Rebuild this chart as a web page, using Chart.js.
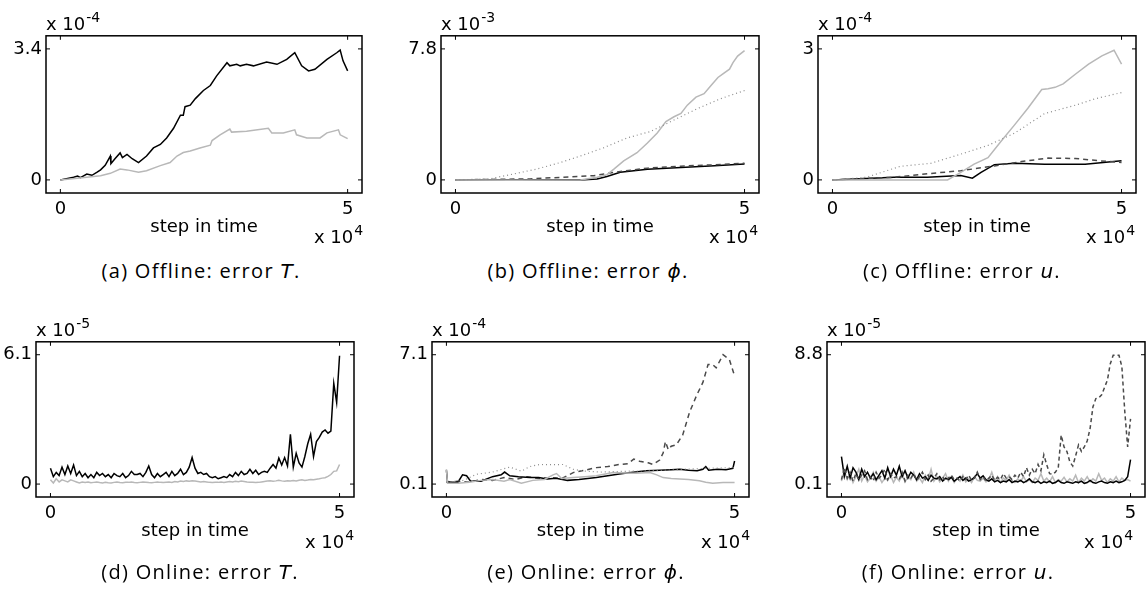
<!DOCTYPE html>
<html>
<head>
<meta charset="utf-8">
<script src="https://cdn.jsdelivr.net/npm/chart.js@4.4.1/dist/chart.umd.min.js"></script>
<style>
  body { margin: 0; background: #fff; width: 1148px; height: 605px; position: relative; overflow: hidden; font-family: "DejaVu Sans", sans-serif; color: #000; }
  canvas { position: absolute; }
  .mult { position: absolute; font-size: 18px; line-height: 20px; white-space: nowrap; }
  .mult sup { font-size: 14px; vertical-align: baseline; position: relative; top: -8px; margin-left: 1px; }
  .cap { position: absolute; width: 340px; text-align: center; font-family: "Open Sans", sans-serif; font-size: 20px; line-height: 24px; letter-spacing: 1.3px; white-space: nowrap; }
  .cap i { font-family: "DejaVu Sans", sans-serif; }
</style>
</head>
<body>
<script>
// x values in units of 1e4 steps, y values in the units shown on each axis

// (a) offline, error T  (x 1e-4)
const offT_black = [[0,0],[0.23,0.07],[0.3,0.1],[0.35,0.06],[0.46,0.15],[0.55,0.12],[0.64,0.2],[0.7,0.26],[0.78,0.38],[0.87,0.62],[0.88,0.42],[0.95,0.55],[1.04,0.7],[1.08,0.58],[1.16,0.66],[1.25,0.55],[1.36,0.45],[1.5,0.62],[1.62,0.83],[1.74,0.92],[1.85,1.09],[1.97,1.34],[2.09,1.68],[2.14,1.68],[2.17,1.9],[2.26,1.94],[2.35,2.11],[2.49,2.32],[2.61,2.45],[2.72,2.7],[2.9,3.04],[2.95,2.96],[3.07,3.0],[3.13,2.96],[3.24,3.0],[3.36,2.96],[3.59,3.06],[3.77,3.0],[3.94,3.13],[4.08,3.3],[4.2,2.96],[4.32,2.83],[4.43,2.87],[4.64,3.13],[4.81,3.3],[4.87,3.37],[4.92,3.09],[5.0,2.83]];
const offT_gray = [[0,0],[0.46,0.07],[0.7,0.11],[0.87,0.17],[1.04,0.28],[1.16,0.26],[1.36,0.2],[1.5,0.24],[1.74,0.37],[1.91,0.45],[2.03,0.62],[2.14,0.71],[2.26,0.75],[2.43,0.83],[2.61,0.9],[2.64,1.02],[2.78,1.17],[2.95,1.32],[2.98,1.24],[3.24,1.26],[3.62,1.34],[3.68,1.22],[3.88,1.22],[4.08,1.3],[4.11,1.17],[4.29,1.09],[4.52,1.09],[4.64,1.22],[4.84,1.3],[4.87,1.17],[5.0,1.07]];

// (b) offline, error phi  (x 1e-3)
const offPhi_gray = [[0,0],[1.0,-0.02],[2.16,0],[2.45,0.16],[2.62,0.31],[2.74,0.64],[2.91,1.13],[3.14,1.62],[3.32,2.2],[3.49,2.79],[3.64,3.47],[3.78,3.76],[3.9,3.96],[4.01,4.45],[4.16,4.93],[4.3,5.13],[4.42,5.62],[4.54,6.1],[4.62,6.3],[4.74,6.59],[4.8,6.98],[4.88,7.37],[5.0,7.7]];
const offPhi_dot = [[0,0],[0.59,0.06],[1.0,0.35],[1.4,0.64],[1.81,1.03],[2.16,1.42],[2.56,1.91],[2.97,2.5],[3.38,2.89],[3.78,3.57],[4.19,4.25],[4.59,4.84],[5.0,5.32]];
const offPhi_black = [[0,0],[2.16,0],[2.45,0.06],[2.62,0.2],[2.85,0.45],[3.32,0.64],[3.9,0.74],[4.48,0.84],[5.0,0.94]];
const offPhi_dash = [[0,0],[1.29,0.06],[1.87,0.16],[2.39,0.25],[2.74,0.45],[3.32,0.7],[3.9,0.82],[4.48,0.9],[5.0,0.99]];

// (c) offline, error u  (x 1e-4)
const offU_gray = [[0,0],[1.99,0],[2.22,0.17],[2.45,0.36],[2.69,0.51],[2.92,0.89],[3.15,1.26],[3.38,1.64],[3.62,2.07],[3.73,2.09],[3.85,2.12],[3.99,2.2],[4.2,2.42],[4.43,2.65],[4.66,2.84],[4.87,2.97],[5.0,2.65]];
const offU_dot = [[0,0],[0.59,0.06],[1.17,0.31],[1.7,0.38],[2.22,0.59],[2.69,0.79],[3.15,1.07],[3.67,1.52],[4.2,1.71],[4.55,1.86],[5.0,2.0]];
const offU_black = [[0,0],[1.06,0.06],[1.64,0.06],[2.22,0.1],[2.42,0.04],[2.57,0.17],[2.8,0.35],[3.15,0.38],[3.67,0.36],[4.37,0.36],[5.0,0.44]];
const offU_dash = [[0,0],[1.06,0.06],[1.64,0.14],[2.22,0.21],[2.8,0.32],[3.27,0.42],[3.73,0.5],[4.2,0.49],[4.6,0.44],[5.0,0.4]];

// online runs are sampled every 0.05 (x 1e4 steps), 101 samples
const onT_black = [0.75,0.35,0.55,0.4,0.8,0.45,0.85,0.5,0.9,0.4,0.6,0.35,0.5,0.3,0.45,0.3,0.55,0.4,0.5,0.35,
  0.45,0.3,0.5,0.4,0.35,0.5,0.3,0.4,0.6,0.45,0.45,0.5,0.35,0.55,0.85,0.45,0.3,0.5,0.35,0.45,
  0.55,0.35,0.6,0.4,0.5,0.7,0.45,0.55,0.8,1.25,0.75,0.5,0.55,0.45,0.5,0.35,0.3,0.35,0.25,0.3,
  0.35,0.3,0.45,0.35,0.55,0.4,0.6,0.45,0.5,0.7,0.5,0.65,0.45,0.55,0.6,0.55,0.75,0.92,0.75,1.23,
  0.9,1.25,0.85,2.35,0.8,1.45,1.0,0.8,1.3,1.9,2.35,1.3,2.0,2.2,2.45,2.55,2.4,2.5,4.75,3.85,6.05];
const onT_gray = [0.2,0.05,0.25,0.1,0.2,0.15,0.1,0.2,0.15,0.1,0.05,0.1,0.08,0.1,0.06,0.08,0.1,0.07,0.05,0.08,
  0.06,0.05,0.08,0.1,0.07,0.06,0.09,0.08,0.1,0.07,0.06,0.08,0.1,0.09,0.07,0.06,0.08,0.1,0.08,0.07,
  0.09,0.1,0.08,0.12,0.1,0.14,0.12,0.15,0.13,0.16,0.14,0.12,0.1,0.12,0.1,0.08,0.07,0.09,0.08,0.1,
  0.08,0.1,0.12,0.1,0.13,0.11,0.14,0.12,0.1,0.09,0.08,0.07,0.08,0.1,0.12,0.14,0.16,0.13,0.15,0.18,
  0.15,0.13,0.16,0.14,0.17,0.15,0.18,0.2,0.17,0.19,0.22,0.2,0.23,0.25,0.28,0.3,0.36,0.45,0.6,0.62,0.92];

// (e) online, error phi  (x 1e-4)
const onPhi_black = [[0,0.85],[0.02,0.2],[0.2,0.2],[0.28,0.6],[0.35,0.55],[0.42,0.25],[0.6,0.25],[0.8,0.5],[0.95,0.6],[1.01,0.75],[1.1,0.55],[1.25,0.5],[1.45,0.45],[1.6,0.45],[1.75,0.38],[1.9,0.42],[2.1,0.3],[2.3,0.35],[2.6,0.45],[2.8,0.55],[3.0,0.65],[3.2,0.72],[3.47,0.82],[3.7,0.85],[3.9,0.88],[4.05,0.9],[4.2,0.85],[4.35,0.82],[4.45,0.9],[4.5,1.05],[4.55,0.85],[4.7,0.9],[4.85,0.88],[4.97,0.95],[5.0,1.35]];
const onPhi_dash = [[0,0.2],[0.2,0.25],[0.4,0.2],[0.6,0.35],[0.8,0.3],[1.0,0.45],[1.2,0.35],[1.4,0.5],[1.6,0.4],[1.8,0.45],[2.0,0.4],[2.2,0.72],[2.4,0.85],[2.6,0.99],[2.8,1.05],[3.0,1.16],[3.15,1.2],[3.25,1.45],[3.35,1.34],[3.5,1.25],[3.58,1.16],[3.7,1.4],[3.76,1.78],[3.8,2.4],[3.85,1.96],[3.9,2.15],[3.99,2.23],[4.1,2.76],[4.22,4.0],[4.34,4.89],[4.45,5.6],[4.54,6.57],[4.62,6.57],[4.68,6.39],[4.8,7.1],[4.91,6.84],[5.0,5.95]];
const onPhi_gray = [[0,0.9],[0.02,0.15],[0.2,0.15],[0.4,0.2],[0.6,0.3],[0.8,0.35],[1.0,0.25],[1.1,0.35],[1.3,0.15],[1.5,0.3],[1.7,0.35],[1.85,0.6],[1.91,0.67],[2.0,0.4],[2.2,0.45],[2.4,0.5],[2.6,0.55],[2.89,0.72],[3.1,0.7],[3.3,0.68],[3.53,0.72],[3.65,0.6],[3.76,0.45],[3.9,0.4],[4.05,0.37],[4.2,0.35],[4.39,0.28],[4.5,0.2],[4.62,0.14],[4.8,0.18],[5.0,0.19]];
const onPhi_dot = [[0,0.2],[0.3,0.3],[0.52,0.63],[0.8,0.75],[1.1,1.02],[1.3,0.8],[1.45,1.05],[1.62,1.16],[1.8,1.15],[2.02,1.16],[2.2,0.9],[2.4,0.8],[2.7,0.75],[2.89,0.77],[3.2,0.8],[3.47,0.81],[3.8,0.85],[4.1,0.9],[4.5,0.95],[5.0,0.99]];

// (f) online, error u  (x 1e-5), sampled every 0.05
const onU_black = [1.95,0.6,1.3,0.5,1.2,0.9,0.4,1.1,0.6,0.9,0.5,0.8,0.4,0.7,1.0,0.5,1.2,0.6,1.1,0.7,
  1.3,0.6,1.0,0.5,0.9,0.7,0.4,0.8,0.5,0.6,0.35,0.7,0.5,0.45,0.6,0.3,0.5,0.4,0.55,0.3,
  0.45,0.6,0.35,0.5,0.3,0.4,0.55,0.8,0.5,0.65,0.4,0.3,0.45,0.25,0.35,0.2,0.3,0.25,0.4,0.2,
  0.3,0.25,0.35,0.2,0.3,0.45,0.25,0.2,0.3,0.15,0.25,0.2,0.3,0.15,0.2,0.35,0.2,0.15,0.25,0.2,
  0.15,0.25,0.2,0.3,0.15,0.2,0.35,0.2,0.15,0.25,0.3,0.2,0.15,0.25,0.2,0.3,0.2,0.25,0.35,0.6,1.75];
const onU_gray = [0.3,1.0,0.4,0.8,0.2,0.6,1.1,0.3,0.7,0.25,0.5,0.9,0.3,0.6,0.2,0.5,0.35,0.7,0.2,0.55,
  0.3,0.8,0.25,0.6,0.4,0.9,0.3,0.5,0.2,0.7,0.4,1.1,0.3,0.6,0.25,0.5,0.8,0.3,0.6,0.2,
  0.5,0.3,0.7,0.25,0.45,0.2,0.6,0.35,0.3,0.5,0.25,0.4,0.9,0.3,0.6,0.2,0.5,0.35,0.7,0.3,
  0.2,0.45,0.3,0.6,0.25,0.4,0.2,0.5,0.35,0.8,0.3,0.5,0.25,0.6,0.2,0.4,0.3,0.55,0.25,0.45,
  0.3,0.7,0.2,0.5,0.3,0.6,0.25,0.45,0.3,0.8,0.35,0.5,0.2,0.45,0.3,0.6,0.25,0.5,0.35,0.4,0.3];
const onU_dash = [0.4,1.2,0.5,0.9,0.3,0.8,0.4,0.7,1.0,0.4,0.6,0.3,0.9,0.5,0.7,1.1,0.4,0.8,0.5,0.6,
  0.4,0.9,0.3,0.7,0.5,0.8,0.35,0.6,0.9,0.4,0.7,0.3,0.5,0.8,0.4,0.6,0.3,0.5,0.7,0.4,
  0.5,0.3,0.6,0.4,0.7,0.35,0.5,0.9,0.4,0.6,0.3,0.5,0.7,0.35,0.55,0.4,0.8,0.5,0.6,0.4,
  0.7,0.5,0.9,0.6,1.2,0.7,1.1,0.8,1.42,1.0,2.07,1.4,0.8,0.76,0.9,1.2,3.39,2.6,2.29,1.6,
  1.31,2.0,2.73,2.3,2.6,3.0,3.83,5.3,5.85,5.9,6.1,6.6,7.1,8.2,8.76,8.76,8.76,8.0,5.0,2.6,4.49];

const xTicks = [0, 5];
const SAMPLE_STEP = 0.05;

const BLACK = '#000000', LIGHT = '#b8b8b8', DOT = '#8c8c8c', DASH = '#4a4a4a';
const FONT = { family: 'DejaVu Sans', size: 18 };

function onGrid(vals) { return vals.map((v, i) => [i * SAMPLE_STEP, v]); }

// MATLAB-style frame with inward ticks on all four sides
const frame = {
  id: 'frame',
  afterDatasetsDraw(chart) {
    const { ctx, chartArea: a, scales: { x, y } } = chart;
    ctx.save();
    ctx.strokeStyle = '#000';
    ctx.lineWidth = 1.5;
    ctx.strokeRect(a.left, a.top, a.right - a.left, a.bottom - a.top);
    ctx.lineWidth = 1;
    ctx.beginPath();
    x.ticks.forEach(t => {
      const px = x.getPixelForValue(t.value);
      ctx.moveTo(px, a.bottom); ctx.lineTo(px, a.bottom - 4);
      ctx.moveTo(px, a.top); ctx.lineTo(px, a.top + 4);
    });
    y.ticks.forEach(t => {
      const py = y.getPixelForValue(t.value);
      ctx.moveTo(a.left, py); ctx.lineTo(a.left + 4, py);
      ctx.moveTo(a.right, py); ctx.lineTo(a.right - 4, py);
    });
    ctx.stroke();
    ctx.restore();
  }
};

function addText(cls, html, left, top) {
  const d = document.createElement('div');
  d.className = cls;
  d.innerHTML = html;
  d.style.left = left + 'px';
  d.style.top = top + 'px';
  document.body.appendChild(d);
}

function panel(p) {
  const padL = 60, padT = 12, padR = 12, padB = 55;
  const b = p.box;
  const canvas = document.createElement('canvas');
  canvas.width = b.w + padL + padR;
  canvas.height = b.h + padT + padB;
  canvas.style.left = (b.l - padL) + 'px';
  canvas.style.top = (b.t - padT) + 'px';
  document.body.appendChild(canvas);

  new Chart(canvas, {
    type: 'line',
    data: {
      datasets: p.series.map(s => ({
        data: s.data.map(pt => ({ x: pt[0], y: pt[1] })),
        borderColor: s.color,
        borderWidth: s.width || 1.5,
        borderDash: s.dash || [],
        pointRadius: 0,
        tension: 0,
        fill: false
      }))
    },
    options: {
      responsive: false,
      animation: false,
      devicePixelRatio: 1,
      layout: { padding: { left: 0, top: padT, right: padR, bottom: 0 } },
      plugins: { legend: { display: false }, tooltip: { enabled: false } },
      scales: {
        x: {
          type: 'linear', min: -0.25, max: 5.25,
          grid: { display: false, drawTicks: false },
          border: { display: false },
          afterBuildTicks: s => { s.ticks = xTicks.map(v => ({ value: v })); },
          afterFit: s => { s.height = padB; },
          ticks: { padding: 6, font: FONT, color: '#000', maxRotation: 0, autoSkip: false, callback: v => String(v) },
          title: { display: true, text: 'step in time', color: '#000', font: FONT, padding: { top: 0, bottom: 10 } }
        },
        y: {
          type: 'linear', min: p.yMin, max: p.yMax,
          grid: { display: false, drawTicks: false },
          border: { display: false },
          afterBuildTicks: s => { s.ticks = p.yTicks.map(v => ({ value: v })); },
          afterFit: s => { s.width = padL; },
          ticks: { padding: 4, font: FONT, color: '#000', autoSkip: false, callback: v => String(v) }
        }
      }
    },
    plugins: [frame]
  });

  // axis multipliers and caption
  addText('mult', 'x 10<sup>' + p.yExp + '</sup>', b.l, b.t - 19);
  addText('mult', 'x 10<sup>4</sup>', p.xExpLeft, p.xExpBase - 16);
  addText('cap', p.caption, p.capX - 170, p.capBase - 20);
}

panel({
  box: { l: 46, t: 33, w: 316, h: 160 }, yMin: -0.34, yMax: 3.74, yTicks: [0, 3.4], yExp: '-4',
  xExpLeft: 314, xExpBase: 243, capX: 201, capBase: 279,
  caption: '(a) Offline: error <i>T</i>.',
  series: [
    { data: offT_gray, color: LIGHT },
    { data: offT_black, color: BLACK }
  ]
});
panel({
  box: { l: 441, t: 33, w: 318, h: 160 }, yMin: -0.78, yMax: 8.58, yTicks: [0, 7.8], yExp: '-3',
  xExpLeft: 709, xExpBase: 243, capX: 588, capBase: 279,
  caption: '(b) Offline: error <i>ϕ</i>.',
  series: [
    { data: offPhi_dot, color: DOT, dash: [1, 3], width: 1.2 },
    { data: offPhi_gray, color: LIGHT },
    { data: offPhi_dash, color: DASH, dash: [5, 4] },
    { data: offPhi_black, color: BLACK }
  ]
});
panel({
  box: { l: 818, t: 33, w: 318, h: 160 }, yMin: -0.3, yMax: 3.3, yTicks: [0, 3], yExp: '-4',
  xExpLeft: 1086, xExpBase: 243, capX: 962, capBase: 279,
  caption: '(c) Offline: error <i>u</i>.',
  series: [
    { data: offU_dot, color: DOT, dash: [1, 3], width: 1.2 },
    { data: offU_gray, color: LIGHT },
    { data: offU_dash, color: DASH, dash: [5, 4] },
    { data: offU_black, color: BLACK }
  ]
});
panel({
  box: { l: 36, t: 339, w: 318, h: 158 }, yMin: -0.61, yMax: 6.71, yTicks: [0, 6.1], yExp: '-5',
  xExpLeft: 305, xExpBase: 548, capX: 200, capBase: 580,
  caption: '(d) Online: error <i>T</i>.',
  series: [
    { data: onGrid(onT_gray), color: LIGHT },
    { data: onGrid(onT_black), color: BLACK }
  ]
});
panel({
  box: { l: 432, t: 339, w: 317, h: 158 }, yMin: -0.6, yMax: 7.8, yTicks: [0.1, 7.1], yExp: '-4',
  xExpLeft: 701, xExpBase: 548, capX: 586, capBase: 580,
  caption: '(e) Online: error <i>ϕ</i>.',
  series: [
    { data: onPhi_dot, color: DOT, dash: [1, 3], width: 1.2 },
    { data: onPhi_gray, color: LIGHT },
    { data: onPhi_black, color: BLACK },
    { data: onPhi_dash, color: DASH, dash: [5, 4] }
  ]
});
panel({
  box: { l: 827, t: 339, w: 318, h: 158 }, yMin: -0.77, yMax: 9.67, yTicks: [0.1, 8.8], yExp: '-5',
  xExpLeft: 1084, xExpBase: 548, capX: 958, capBase: 580,
  caption: '(f) Online: error <i>u</i>.',
  series: [
    { data: onGrid(onU_dash), color: DASH, dash: [4, 3] },
    { data: onGrid(onU_black), color: BLACK },
    { data: onGrid(onU_gray), color: LIGHT }
  ]
});
</script>
</body>
</html>
